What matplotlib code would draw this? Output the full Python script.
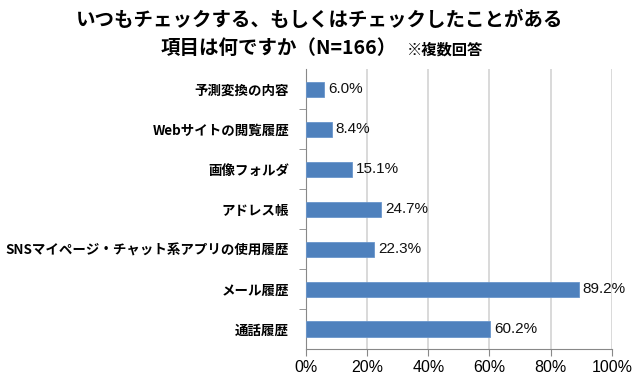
import matplotlib
matplotlib.use('Agg')
import matplotlib.pyplot as plt
from matplotlib.ticker import FuncFormatter

plt.rcParams['font.family'] = ['Noto Sans CJK JP', 'DejaVu Sans']

# data (top to bottom as in the chart)
categories = ['予測変換の内容', 'Webサイトの閲覧履歴', '画像フォルダ', 'アドレス帳',
              'SNSマイページ・チャット系アプリの使用履歴', 'メール履歴', '通話履歴']
values = [6.0, 8.4, 15.1, 24.7, 22.3, 89.2, 60.2]
xticks = [0, 20, 40, 60, 80, 100]

fig = plt.figure(figsize=(6.4, 3.79), dpi=100)
ax = fig.add_axes([0.478, 0.079, 0.478, 0.738])

pos = list(range(len(categories)))[::-1]
ax.barh(pos, values, height=0.38, color='#4F81BD', edgecolor='#6A96CC', linewidth=0.6, zorder=3)

for y, v in zip(pos, values):
    ax.text(v + 1.2, y, f'{v:.1f}%', va='center', ha='left', fontsize=11,
            family=['Liberation Sans', 'DejaVu Sans'], color='#111111', zorder=4)

ax.set_xlim(0, 100)
ax.set_ylim(-0.5, len(categories) - 0.5)
ax.set_xticks(xticks)
ax.xaxis.set_major_formatter(FuncFormatter(lambda x, p: f'{x:.0f}%'))
for lab in ax.get_xticklabels():
    lab.set_family(['Liberation Sans', 'DejaVu Sans'])
    lab.set_fontsize(11.5)
ax.set_yticks(pos)
ax.set_yticklabels(categories, fontsize=9.7, fontweight='bold')
ax.set_yticks([p + 0.5 for p in range(len(categories) - 1)], minor=True)

ax.grid(axis='x', color='#D9D9D9', linewidth=1.4, zorder=0)
for s in ['top', 'right']:
    ax.spines[s].set_visible(False)
ax.spines['left'].set_color('#888888')
ax.spines['bottom'].set_color('#888888')
ax.tick_params(axis='y', which='major', length=0, pad=12)
ax.tick_params(axis='y', which='minor', length=5, color='#888888')
ax.tick_params(axis='x', length=5, color='#888888', pad=3)

fig.text(0.5, 0.945, 'いつもチェックする、もしくはチェックしたことがある',
         ha='center', va='center', fontsize=14, fontweight='bold')
fig.text(0.62, 0.872, '項目は何ですか（N=166）', ha='right', va='center',
         fontsize=14, fontweight='bold')
fig.text(0.635, 0.868, '※複数回答', ha='left', va='center', fontsize=11, fontweight='bold')

plt.savefig('out.png', dpi=100)
